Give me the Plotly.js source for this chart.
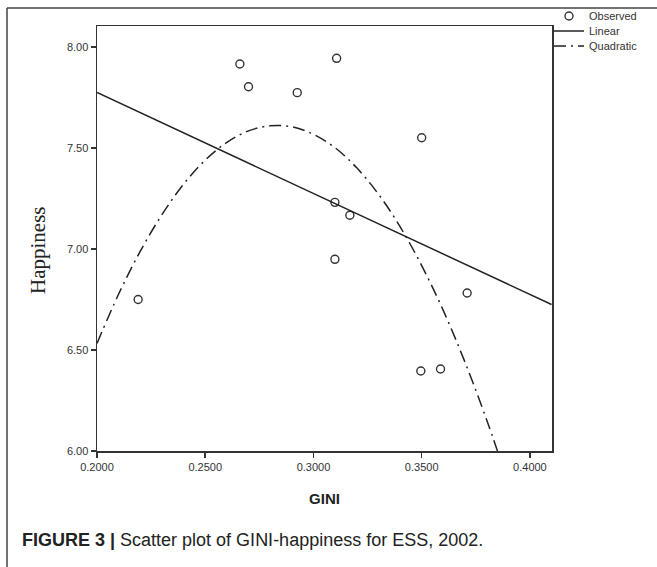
<!DOCTYPE html>
<html>
<head>
<meta charset="utf-8">
<script src="https://cdn.plot.ly/plotly-3.0.1.min.js"></script>
<style>
  html, body { margin: 0; padding: 0; background: #fff; }
  #chart { width: 657px; height: 567px; }
</style>
</head>
<body>
<div id="chart"></div>
<script>
// Observed points (GINI, Happiness)
var giniObserved = [0.219, 0.266, 0.270, 0.2925, 0.3107, 0.3099, 0.3168, 0.3099, 0.350, 0.3496, 0.3587, 0.371];
var happinessObserved = [6.75, 7.916, 7.803, 7.774, 7.944, 7.231, 7.167, 6.949, 7.551, 6.396, 6.406, 6.782];

// Linear fit line
var giniLinear = [0.200, 0.410];
var happinessLinear = [7.775, 6.725];

// Quadratic fit curve
var giniQuadratic = [0.200, 0.210, 0.220, 0.230, 0.240, 0.250, 0.260, 0.270, 0.280, 0.290, 0.300, 0.310, 0.320, 0.330, 0.340, 0.350, 0.360, 0.370, 0.380, 0.385];
var happinessQuadratic = [6.533, 6.777, 6.989, 7.170, 7.321, 7.440, 7.528, 7.585, 7.610, 7.605, 7.568, 7.501, 7.402, 7.272, 7.111, 6.918, 6.695, 6.440, 6.155, 6.000];

var xTicks = [0.20, 0.25, 0.30, 0.35, 0.40];
var xTickLabels = ['0.2000', '0.2500', '0.3000', '0.3500', '0.4000'];
var yTicks = [6.0, 6.5, 7.0, 7.5, 8.0];
var yTickLabels = ['6.00', '6.50', '7.00', '7.50', '8.00'];

var ink = '#333333';

var traces = [
  {
    x: giniObserved, y: happinessObserved, name: 'Observed', type: 'scatter', mode: 'markers',
    marker: { symbol: 'circle-open', size: 8, color: ink, line: { width: 1.4, color: ink } },
    legend: 'legend'
  },
  {
    x: giniLinear, y: happinessLinear, name: 'Linear', type: 'scatter', mode: 'lines',
    line: { color: '#222222', width: 1.5 },
    legend: 'legend2'
  },
  {
    x: giniQuadratic, y: happinessQuadratic, name: 'Quadratic', type: 'scatter', mode: 'lines',
    line: { color: '#222222', width: 1.5, dash: '12px,5px,2px,5px', shape: 'spline' },
    legend: 'legend3'
  }
];

var W = 657, H = 567;
var mL = 97, mR = 105, mT = 26, mB = 116;
var pw = W - mL - mR, ph = H - mT - mB;
function px(xp) { return (xp - mL) / pw; }
function py(yp) { return (H - mB - yp) / ph; }

function legendAt(yc) {
  return {
    x: px(549), y: py(yc), xanchor: 'left', yanchor: 'middle',
    font: { size: 11, color: ink, family: 'Liberation Sans, Arial, sans-serif' },
    bgcolor: 'rgba(0,0,0,0)', borderwidth: 0, itemwidth: 30
  };
}

var layout = {
  width: W, height: H,
  margin: { l: mL, r: mR, t: mT, b: mB, pad: 0, autoexpand: false },
  paper_bgcolor: '#ffffff', plot_bgcolor: '#ffffff',
  font: { family: 'Liberation Sans, Arial, sans-serif', color: ink, size: 11 },
  showlegend: true,
  legend: legendAt(16),
  legend2: legendAt(31),
  legend3: legendAt(46),
  xaxis: {
    range: [0.2, 0.4102], tickmode: 'array', tickvals: xTicks, ticktext: xTickLabels,
    ticks: 'outside', ticklen: 5, tickwidth: 1.5, tickcolor: ink,
    showline: true, linecolor: ink, linewidth: 1.5, mirror: true,
    showgrid: false, zeroline: false,
    tickfont: { size: 11, color: ink },
    title: { text: '<b>GINI</b>', font: { size: 15, color: '#222' }, standoff: 22 }
  },
  yaxis: {
    range: [6.0, 8.104], tickmode: 'array', tickvals: yTicks, ticktext: yTickLabels,
    ticks: 'outside', ticklen: 5, tickwidth: 1.5, tickcolor: ink,
    showline: true, linecolor: ink, linewidth: 1.5, mirror: true,
    showgrid: false, zeroline: false,
    tickfont: { size: 11, color: ink }
  },
  shapes: [
    { type: 'line', xref: 'paper', yref: 'paper', x0: px(7), x1: px(7), y0: py(8), y1: py(600), line: { color: '#444', width: 1.5 } },
    { type: 'line', xref: 'paper', yref: 'paper', x0: px(7), x1: px(700), y0: py(8), y1: py(8), line: { color: '#444', width: 1.5 } }
  ],
  annotations: [
    {
      xref: 'paper', yref: 'paper', x: px(38), y: py(250), xanchor: 'center', yanchor: 'middle',
      showarrow: false, textangle: -90,
      text: 'Happiness',
      font: { size: 21, color: '#222', family: 'Liberation Serif, Times New Roman, serif' }
    },
    {
      xref: 'paper', yref: 'paper', x: px(20), y: py(540), xanchor: 'left', yanchor: 'middle',
      showarrow: false,
      text: '<b>FIGURE 3 |</b> Scatter plot of GINI-happiness for ESS, 2002.',
      font: { size: 18, color: '#222', family: 'Liberation Sans, Arial, sans-serif' }
    }
  ]
};

Plotly.newPlot('chart', traces, layout, { displayModeBar: false, staticPlot: true });
</script>
</body>
</html>
